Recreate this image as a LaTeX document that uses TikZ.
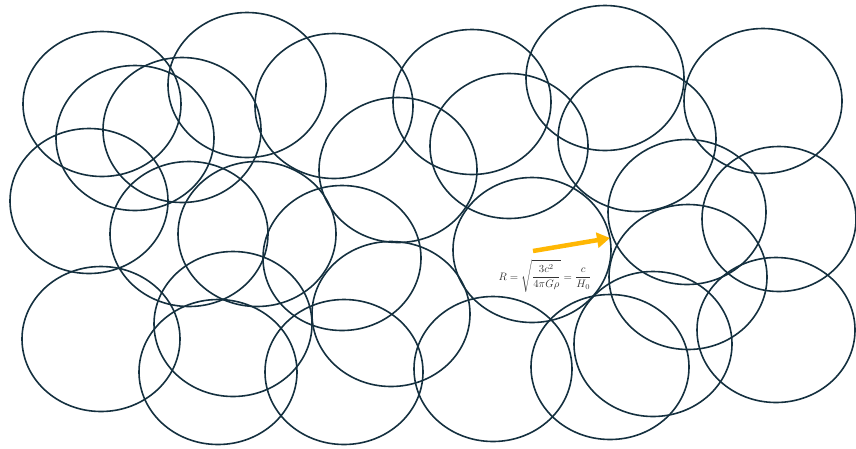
\documentclass[tikz,border=0pt]{standalone}
\usepackage{amsmath}
\usepackage{xcolor}
\usepackage{tikz}
\usetikzlibrary{arrows.meta}

\definecolor{bubbleline}{HTML}{14303F}
\definecolor{arrowgold}{HTML}{FFB703}

\begin{document}
\begin{tikzpicture}[x=1pt, y=-1pt,
    bubble/.style={draw=bubbleline, line width=1.6pt},
    pointer/.style={draw=arrowgold, line width=4.5pt, -{Triangle[length=13pt, width=15pt]}}]
    \useasboundingbox (0, 0) rectangle (856, 448);
    % top row
    \draw[bubble] (102, 104) ellipse (79 and 72.5);
    \draw[bubble] (247, 85) ellipse (79 and 72.5);
    \draw[bubble] (334, 106) ellipse (79 and 72.5);
    \draw[bubble] (472, 102) ellipse (79 and 72.5);
    \draw[bubble] (605, 78) ellipse (79 and 72.5);
    \draw[bubble] (763, 101) ellipse (79 and 72.5);
    % second row
    \draw[bubble] (135, 138) ellipse (79 and 72.5);
    \draw[bubble] (182, 130) ellipse (79 and 72.5);
    \draw[bubble] (398, 170) ellipse (79 and 72.5);
    \draw[bubble] (509, 146) ellipse (79 and 72.5);
    \draw[bubble] (637, 139) ellipse (79 and 72.5);
    % third row
    \draw[bubble] (89, 201) ellipse (79 and 72.5);
    \draw[bubble] (189, 234) ellipse (79 and 72.5);
    \draw[bubble] (257, 234) ellipse (79 and 72.5);
    \draw[bubble] (342, 258) ellipse (79 and 72.5);
    \draw[bubble] (532, 250) ellipse (79 and 72.5);
    \draw[bubble] (687, 212) ellipse (79 and 72.5);
    \draw[bubble] (779, 219) ellipse (77 and 72.5);
    % bottom rows
    \draw[bubble] (101, 339) ellipse (79 and 72.5);
    \draw[bubble] (233, 324) ellipse (79 and 72.5);
    \draw[bubble] (218, 372) ellipse (79 and 72.5);
    \draw[bubble] (391, 314) ellipse (79 and 72.5);
    \draw[bubble] (344, 372) ellipse (79 and 72.5);
    \draw[bubble] (493, 369) ellipse (79 and 72.5);
    \draw[bubble] (610, 367) ellipse (79 and 72.5);
    \draw[bubble] (653, 344) ellipse (79 and 72.5);
    \draw[bubble] (688, 277) ellipse (79 and 72.5);
    \draw[bubble] (776, 330) ellipse (79 and 72.5);

    \node[text=black!80, scale=1.08] (radius) at (545, 276) {$\displaystyle R = \sqrt{\frac{3c^2}{4\pi G\rho}} = \frac{c}{H_0}$};
    \coordinate (tail) at (533, 251);
    \coordinate (tip) at (610, 238);
    \draw[pointer] (tail) -- (tip);
\end{tikzpicture}
\end{document}
